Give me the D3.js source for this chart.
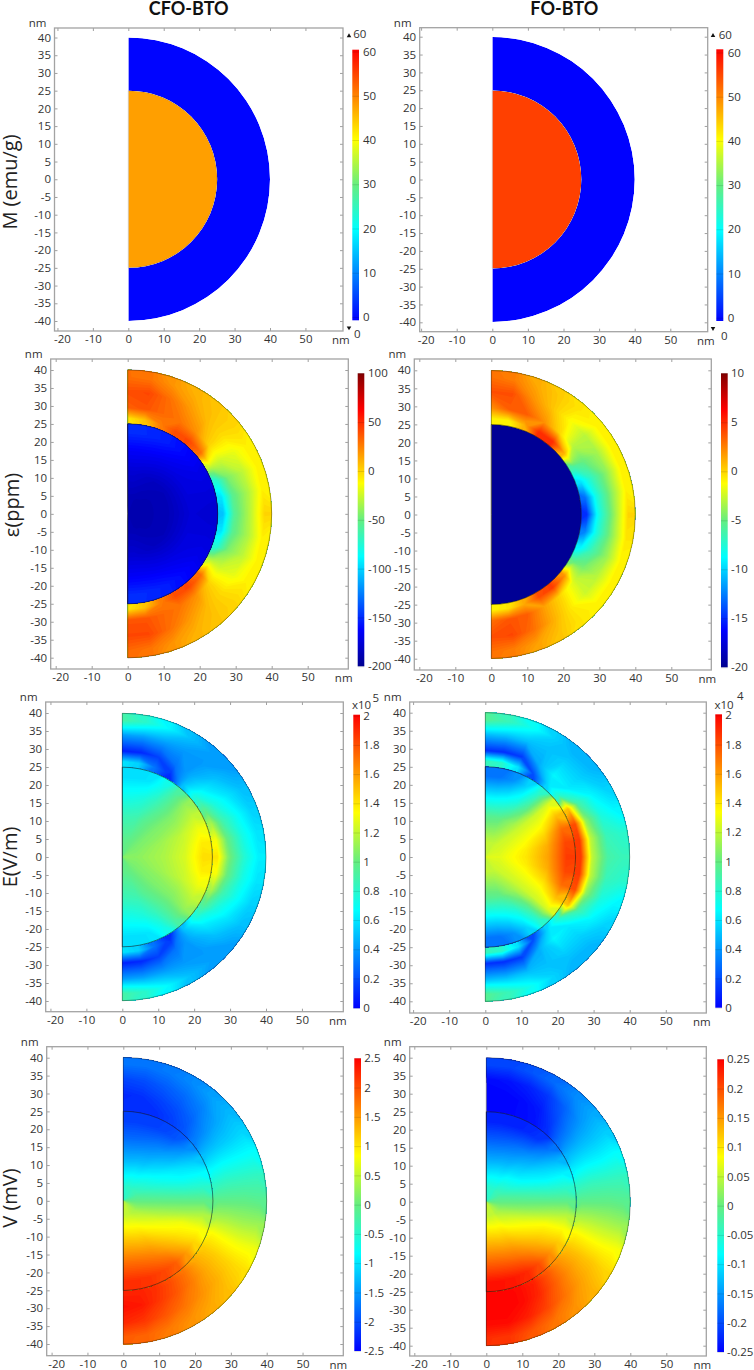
<!DOCTYPE html>
<html>
<head>
<meta charset="utf-8">
<script src="https://cdn.jsdelivr.net/npm/d3@7"></script>
<style>
  body { margin: 0; background: #fff; }
  svg { display: block; }
  text { font-family: "Open Sans", sans-serif; fill: #333; }
</style>
</head>
<body>
<svg id="fig" width="754" height="1370"></svg>
<script>
// columns of every field table: polar angle 90, 80 ... -90 deg, rows go outwards
const coreRadii = [4, 11.5, 17.5, 22.5]
const shellRadii = [26.5, 29.5, 34, 38]
const xTicks = [-20, -10, 0, 10, 20, 30, 40, 50]
const yTicks = [-40, -35, -30, -25, -20, -15, -10, -5, 0, 5, 10, 15, 20, 25, 30, 35, 40]

const mCfoCore = [[47.5]]
const mCfoShell = [[0.3]]
const mFoCore = [[55]]
const mFoShell = [[0.1]]
const mTicks = [0, 10, 20, 30, 40, 50, 60]

const epsCfoCore = [
  [-188, -188, -188, -189, -189, -190, -190, -190, -190, -190, -190, -190, -190, -190, -189, -189, -188, -188, -188],
  [-178, -178, -180, -182, -184, -185, -186, -186, -186, -186, -186, -186, -186, -185, -184, -182, -180, -178, -178],
  [-165, -165, -166, -168, -170, -172, -173, -174, -175, -176, -175, -174, -173, -172, -170, -168, -166, -165, -165],
  [-150, -150, -152, -155, -160, -165, -170, -173, -176, -178, -176, -173, -170, -165, -160, -155, -152, -150, -150]
]
const epsCfoShell = [
  [-5, 5, 25, 40, 42, 30, -25, -75, -95, -105, -95, -75, -25, 30, 42, 40, 25, 5, -5],
  [35, 38, 32, 28, 20, 0, -25, -45, -55, -58, -55, -45, -25, 0, 20, 28, 32, 38, 38],
  [40, 42, 30, 18, 8, -2, -18, -28, -32, -30, -32, -28, -18, -2, 8, 18, 30, 42, 42],
  [30, 28, 18, 10, 5, 0, -8, -10, -8, 0, -8, -10, -8, 0, 5, 10, 18, 28, 32]
]
const epsCfoTicks = [-200, -150, -100, -50, 0, 50, 100]

const epsFoCore = [[-19.8]]
const epsFoShell = [
  [-1, -1, 1, 5, 5, 1, -6, -9.5, -13, -15, -12.5, -9, -5, 2, 4.5, 4, 1.2, -0.5, -1],
  [2, 3.5, 3.5, 2, 0, -3, -5, -7, -8, -8.5, -8, -6.5, -4.5, -2, 0, 1.5, 3.5, 3.8, 3],
  [4, 4, 2, 0.5, -1.2, -3, -3.5, -4, -4, -4, -4, -3.8, -3, -2.5, -0.5, 1.2, 3, 4.2, 4],
  [3, 2.5, 1.2, 0.3, -0.5, -1, -1, -1, -0.8, 0, -0.5, -1, -1, -1, -0.5, 0.5, 1.5, 2.5, 3]
]
const epsFoTicks = [-20, -15, -10, -5, 0, 5, 10]

const eCfoCore = [
  [0.98, 0.98, 0.99, 1, 1.02, 1.04, 1.05, 1.06, 1.07, 1.08, 1.07, 1.06, 1.05, 1.04, 1.02, 1, 0.99, 0.98, 0.98],
  [0.85, 0.86, 0.88, 0.95, 1, 1.05, 1.08, 1.12, 1.14, 1.15, 1.14, 1.12, 1.08, 1.05, 1, 0.95, 0.88, 0.86, 0.85],
  [0.7, 0.71, 0.75, 0.84, 0.95, 1.05, 1.12, 1.2, 1.23, 1.25, 1.23, 1.2, 1.12, 1.05, 0.95, 0.84, 0.75, 0.71, 0.7],
  [0.58, 0.58, 0.6, 0.72, 0.92, 1.1, 1.2, 1.3, 1.38, 1.42, 1.38, 1.3, 1.2, 1.1, 0.92, 0.72, 0.6, 0.58, 0.58]
]
const eCfoShell = [
  [0.6, 0.55, 0.3, 0.12, 0.5, 0.75, 0.95, 1.15, 1.32, 1.4, 1.32, 1.15, 0.95, 0.75, 0.5, 0.12, 0.3, 0.55, 0.6],
  [0.08, 0.1, 0.17, 0.3, 0.45, 0.62, 0.75, 0.88, 1, 1.05, 1, 0.88, 0.75, 0.62, 0.45, 0.3, 0.17, 0.1, 0.08],
  [0.42, 0.42, 0.42, 0.4, 0.4, 0.5, 0.6, 0.68, 0.73, 0.78, 0.73, 0.68, 0.6, 0.5, 0.4, 0.4, 0.42, 0.42, 0.42],
  [0.9, 0.8, 0.65, 0.5, 0.42, 0.42, 0.5, 0.55, 0.6, 0.63, 0.6, 0.55, 0.5, 0.42, 0.42, 0.5, 0.65, 0.8, 0.9]
]
const eFoCore = [
  [1.2, 1.2, 1.2, 1.2, 1.22, 1.23, 1.24, 1.25, 1.26, 1.27, 1.26, 1.25, 1.24, 1.23, 1.22, 1.2, 1.2, 1.2, 1.2],
  [0.95, 0.95, 0.97, 1.05, 1.13, 1.22, 1.28, 1.33, 1.38, 1.4, 1.38, 1.33, 1.28, 1.22, 1.13, 1.05, 0.97, 0.95, 0.95],
  [0.6, 0.6, 0.65, 0.75, 0.95, 1.22, 1.32, 1.45, 1.55, 1.58, 1.55, 1.45, 1.32, 1.22, 0.95, 0.75, 0.65, 0.6, 0.6],
  [0.3, 0.3, 0.38, 0.55, 0.8, 1.25, 1.5, 1.72, 1.82, 1.85, 1.82, 1.72, 1.5, 1.25, 0.8, 0.55, 0.38, 0.3, 0.3]
]
const eFoShell = [
  [0.85, 0.8, 0.6, 0.2, 0.55, 0.8, 1.5, 1.8, 1.85, 1.85, 1.85, 1.8, 1.5, 0.8, 0.55, 0.2, 0.6, 0.8, 0.85],
  [0.12, 0.12, 0.15, 0.45, 0.65, 0.62, 0.9, 1.1, 1.2, 1.2, 1.2, 1.1, 0.9, 0.62, 0.65, 0.45, 0.15, 0.12, 0.12],
  [0.5, 0.5, 0.5, 0.5, 0.55, 0.55, 0.65, 0.75, 0.85, 0.9, 0.85, 0.75, 0.65, 0.55, 0.55, 0.5, 0.5, 0.5, 0.5],
  [0.95, 0.85, 0.7, 0.55, 0.47, 0.48, 0.55, 0.65, 0.8, 0.85, 0.8, 0.65, 0.55, 0.48, 0.47, 0.55, 0.7, 0.85, 0.95]
]
const eTicks = [0, 0.2, 0.4, 0.6, 0.8, 1, 1.2, 1.4, 1.6, 1.8, 2]

const vCfoCore = [
  [-0.55, -0.5, -0.45, -0.45, -0.4, -0.35, -0.3, -0.2, -0.12, -0.05, 0.05, 0.15, 0.25, 0.35, 0.4, 0.45, 0.5, 0.5, 0.55],
  [-1.3, -1.3, -1.25, -1.2, -1.05, -0.9, -0.75, -0.55, -0.3, -0.05, 0.2, 0.45, 0.7, 0.85, 1, 1.15, 1.2, 1.25, 1.25],
  [-1.8, -1.8, -1.75, -1.65, -1.5, -1.3, -1, -0.8, -0.45, -0.05, 0.3, 0.75, 0.95, 1.2, 1.45, 1.65, 1.75, 1.8, 1.8],
  [-2.1, -2.1, -2.1, -2.05, -1.95, -1.6, -1.2, -0.85, -0.5, -0.05, 0.4, 0.8, 1.1, 1.5, 1.9, 2.05, 2.15, 2.2, 2.2]
]
const vCfoShell = [
  [-2.2, -2.2, -2.2, -2.1, -1.95, -1.65, -1.25, -0.85, -0.45, -0.05, 0.35, 0.85, 1.15, 1.4, 1.75, 2, 2.2, 2.3, 2.3],
  [-2.25, -2.2, -2.1, -2, -1.85, -1.55, -1.2, -0.8, -0.4, -0.05, 0.35, 0.8, 1.15, 1.4, 1.7, 1.95, 2.15, 2.35, 2.4],
  [-2.05, -2, -1.9, -1.8, -1.65, -1.4, -1.15, -0.8, -0.4, -0.05, 0.3, 0.75, 1.1, 1.35, 1.55, 1.75, 1.95, 2.15, 2.25],
  [-1.75, -1.75, -1.7, -1.6, -1.45, -1.3, -1.1, -0.8, -0.4, -0.1, 0.3, 0.75, 1.05, 1.25, 1.4, 1.55, 1.7, 1.85, 1.9]
]
const vCfoTicks = [-2.5, -2, -1.5, -1, -0.5, 0, 0.5, 1, 1.5, 2, 2.5]

const vFoCore = [
  [-0.055, -0.05, -0.05, -0.05, -0.04, -0.035, -0.03, -0.02, -0.012, -0.005, 0.005, 0.015, 0.025, 0.035, 0.04, 0.05, 0.05, 0.05, 0.055],
  [-0.135, -0.135, -0.13, -0.125, -0.11, -0.1, -0.085, -0.06, -0.03, -0.005, 0.02, 0.05, 0.075, 0.09, 0.105, 0.12, 0.125, 0.13, 0.13],
  [-0.19, -0.19, -0.185, -0.175, -0.16, -0.14, -0.11, -0.085, -0.045, -0.005, 0.035, 0.08, 0.105, 0.13, 0.155, 0.175, 0.185, 0.19, 0.19],
  [-0.23, -0.23, -0.23, -0.225, -0.215, -0.175, -0.13, -0.09, -0.05, -0.005, 0.045, 0.085, 0.12, 0.16, 0.2, 0.225, 0.235, 0.24, 0.24]
]
const vFoShell = [
  [-0.25, -0.25, -0.245, -0.24, -0.22, -0.175, -0.13, -0.09, -0.045, -0.005, 0.04, 0.09, 0.125, 0.155, 0.195, 0.23, 0.245, 0.25, 0.25],
  [-0.25, -0.25, -0.245, -0.235, -0.205, -0.165, -0.125, -0.085, -0.04, -0.005, 0.04, 0.085, 0.125, 0.155, 0.19, 0.225, 0.245, 0.25, 0.25],
  [-0.245, -0.24, -0.23, -0.215, -0.185, -0.15, -0.12, -0.085, -0.04, -0.005, 0.035, 0.08, 0.12, 0.145, 0.175, 0.205, 0.23, 0.245, 0.245],
  [-0.205, -0.205, -0.195, -0.18, -0.16, -0.14, -0.115, -0.08, -0.04, -0.01, 0.03, 0.08, 0.11, 0.135, 0.155, 0.175, 0.195, 0.215, 0.22]
]
const vFoTicks = [-0.25, -0.2, -0.15, -0.1, -0.05, 0, 0.05, 0.1, 0.15, 0.2, 0.25]

const columnTitles = ['CFO-BTO', 'FO-BTO']
const rowTitles = ['M (emu/g)', 'ε(ppm)', 'E(V/m)', 'V (mV)']

// colour maps, stop position on the bar -> colour
const rainbowStops = [[0, '#0000ff'], [1 / 3, '#00ffff'], [1 / 2, '#66ee80'], [2 / 3, '#ffff00'], [1, '#ff0000']]
const jetStops = [[0, '#00008f'], [0.125, '#0000ff'], [0.375, '#00ffff'], [0.5, '#66ee80'], [0.625, '#ffff00'], [0.875, '#ff0000'], [1, '#800000']]

// pixel layout of each panel
const panels = [
  { id: 'p1', frame: [54.5, 28, 343, 331], x0: 128.3, x40: 270, yT: 37.5, yB: 321, bar: [352.3, 49.7, 359, 320.3], lab: [51.5, 317], labX: 363, core: mCfoCore, shell: mCfoShell, ticks: mTicks, stops: rainbowStops, over: [349, 36, 353.3, 34, 349, 327.7, 354, 334] },
  { id: 'p2', frame: [419.7, 27.7, 707.7, 331.7], x0: 492.3, x40: 634.7, yT: 36.7, yB: 322.3, bar: [716.3, 49.3, 723.3, 321], lab: [52.5, 317.7], labX: 727.7, core: mFoCore, shell: mFoShell, ticks: mTicks, stops: rainbowStops, over: [713, 35.7, 718.7, 34.5, 713, 328.3, 721, 335.7] },
  { id: 'p3', frame: [50.7, 359, 348.3, 669], x0: 127.7, x40: 271.7, yT: 370, yB: 657.7, bar: [357.7, 373.3, 364.3, 666.3], lab: [373.3, 666.3], labX: 368, core: epsCfoCore, shell: epsCfoShell, ticks: epsCfoTicks, stops: jetStops, outline: true },
  { id: 'p4', frame: [414.3, 359, 711.3, 670], x0: 491.3, x40: 635.3, yT: 370.3, yB: 658.7, bar: [721, 373.3, 727.7, 667.3], lab: [373.3, 667.3], labX: 731, core: epsFoCore, shell: epsFoShell, ticks: epsFoTicks, stops: jetStops, outline: true },
  { id: 'p5', frame: [45.7, 702, 343.3, 1011.7], x0: 122.3, x40: 266, yT: 713, yB: 1001, bar: [353.3, 714.7, 360, 1008.3], lab: [715.7, 1007.7], labX: 363.3, core: eCfoCore, shell: eCfoShell, ticks: eTicks, stops: rainbowStops, outline: true, exp: ['5', 352, 708.5, 372.5, 702] },
  { id: 'p6', frame: [409.7, 702, 706.3, 1013], x0: 485.3, x40: 629.7, yT: 712.7, yB: 1001.3, bar: [715.3, 714.3, 722, 1007.7], lab: [715.3, 1007.7], labX: 725.3, core: eFoCore, shell: eFoShell, ticks: eTicks, stops: rainbowStops, outline: true, exp: ['4', 714.5, 708.5, 737, 700] },
  { id: 'p7', frame: [46.7, 1046.7, 343.3, 1355.7], x0: 123.3, x40: 266.7, yT: 1057.7, yB: 1344, bar: [354.3, 1058.3, 361, 1351], lab: [1058.3, 1351], labX: 364.3, core: vCfoCore, shell: vCfoShell, ticks: vCfoTicks, stops: rainbowStops, outline: true },
  { id: 'p8', frame: [409.7, 1046.7, 706.3, 1356], x0: 486.3, x40: 630.3, yT: 1057.7, yB: 1345.7, bar: [717.3, 1059.3, 724, 1352], lab: [1059.3, 1352], labX: 727, core: vFoCore, shell: vFoShell, ticks: vFoTicks, stops: rainbowStops, outline: true }
]

const svg = d3.select('#fig')
const defs = svg.append('defs')

// filled contours of a polar table: the grid is contoured in (column, row) space
// and every ring vertex is carried over to the half disk by the two scales
function drawField(parent, rows, radii, rIn, rOut, r, color, lo, hi, clipId) {
  const g = parent.append('g').attr('clip-path', `url(#${clipId})`)

  if (rows.length === 1) {
    g.append('path')
      .attr('d', d3.arc()({ innerRadius: r(rIn), outerRadius: r(rOut), startAngle: 0, endAngle: Math.PI }))
      .attr('fill', color(rows[0][0]))
    return
  }

  const nx = rows[0].length
  const ny = rows.length
  const angle = d3.scaleLinear().domain([0.5, nx - 0.5]).range([0, Math.PI])
  const radius = d3.scaleLinear()
    .domain([0, ...radii.map((d, i) => i + 0.5), ny])
    .range([rIn, ...radii, rOut])

  const path = d3.geoPath(d3.geoTransform({
    point(cx, cy) {
      const a = angle(cx)
      const rr = r(radius(cy))
      this.stream.point(rr * Math.sin(a), -rr * Math.cos(a))
    }
  }))

  const levels = d3.range(128).map(i => lo + i * (hi - lo) / 128)
  const contours = d3.contours().size([nx, ny]).thresholds(levels)(rows.flat())

  g.selectAll('path')
    .data(contours.filter(c => c.coordinates.length))
    .join('path')
    .attr('d', path)
    .attr('fill', d => color(d.value + (hi - lo) / 256))
}

function drawAxis(g, axis, tx, ty) {
  const a = g.append('g').attr('transform', `translate(${tx},${ty})`).call(axis)
  a.select('.domain').remove()
  a.selectAll('line').attr('stroke', '#888').attr('stroke-width', 0.8)
  a.selectAll('text').attr('font-size', 11.5).attr('font-family', '"Open Sans", sans-serif').attr('fill', '#333')
  return a
}

function drawPanel(p) {
  const [fx0, fy0, fx1, fy1] = p.frame
  const g = svg.append('g').attr('id', p.id)

  const x = d3.scaleLinear().domain([0, 40]).range([p.x0, p.x40])
  const y = d3.scaleLinear().domain([-40, 40]).range([p.yB, p.yT])
  const r = d3.scaleLinear().domain([0, 40]).range([0, p.x40 - p.x0])

  const lo = p.ticks[0]
  const hi = p.ticks[p.ticks.length - 1]
  const color = d3.scaleLinear()
    .domain(p.stops.map(s => lo + s[0] * (hi - lo)))
    .range(p.stops.map(s => s[1]))
    .clamp(true)

  const cx = x(0)
  const cy = y(0)
  const half = (r0, r1) => d3.arc()({ innerRadius: r(r0), outerRadius: r(r1), startAngle: 0, endAngle: Math.PI })

  defs.append('clipPath').attr('id', p.id + 'core').append('path').attr('d', half(0, 25))
  defs.append('clipPath').attr('id', p.id + 'shell').append('path').attr('d', half(25, 40))

  const field = g.append('g').attr('transform', `translate(${cx},${cy})`)
  if (p.shell.length === 1) {
    drawField(field, p.shell, shellRadii, 25, 40, r, color, lo, hi, p.id + 'shell')
  } else {
    drawField(field, p.shell, shellRadii, 22, 44, r, color, lo, hi, p.id + 'shell')
  }
  drawField(field, p.core, coreRadii, 0, p.core.length === 1 ? 25 : 28, r, color, lo, hi, p.id + 'core')

  const outlines = field.append('g').attr('fill', 'none').attr('stroke', '#1a1a1a')
  outlines.append('path').attr('d', half(0, 25))
    .attr('stroke-width', p.outline ? 0.7 : 0.5).attr('stroke-opacity', p.outline ? 0.8 : 0.35)
  if (p.outline) {
    outlines.append('path').attr('d', half(0, 40)).attr('stroke-width', 0.6).attr('stroke-opacity', 0.7)
  }

  // frame and ticks, the ticks point inwards on all four sides
  const bottom = drawAxis(g, d3.axisBottom(x).tickValues(xTicks).tickSize(-3).tickPadding(4).tickFormat(d => d), 0, fy1)
  // the first label is pushed inside the frame in the original
  bottom.selectAll('text').filter(d => d === xTicks[0]).attr('dx', 4.5)
  drawAxis(g, d3.axisTop(x).tickValues(xTicks).tickSize(-3).tickFormat(''), 0, fy0)
  drawAxis(g, d3.axisLeft(y).tickValues(yTicks).tickSize(-3).tickPadding(3.5).tickFormat(d => d), fx0, 0)
  drawAxis(g, d3.axisRight(y).tickValues(yTicks).tickSize(-3).tickFormat(''), fx1, 0)

  g.append('rect')
    .attr('x', fx0).attr('y', fy0).attr('width', fx1 - fx0).attr('height', fy1 - fy0)
    .attr('fill', 'none').attr('stroke', '#a3a3a3').attr('stroke-width', 1.3)

  g.append('text').attr('x', x(60)).attr('y', fy1 + 13).attr('text-anchor', 'middle')
    .attr('font-size', 11.5).text('nm')
  g.append('text').attr('x', fx0 - 17).attr('y', fy0 - 1).attr('text-anchor', 'middle')
    .attr('font-size', 11.5).text('nm')

  // colour bar
  const [bx0, by0, bx1, by1] = p.bar
  const gradId = p.id + 'grad'
  defs.append('linearGradient').attr('id', gradId)
    .attr('x1', 0).attr('y1', 1).attr('x2', 0).attr('y2', 0)
    .selectAll('stop')
    .data(p.stops)
    .join('stop')
    .attr('offset', d => d[0])
    .attr('stop-color', d => d[1])
  g.append('rect')
    .attr('x', bx0).attr('y', by0).attr('width', bx1 - bx0).attr('height', by1 - by0)
    .attr('fill', `url(#${gradId})`)

  const barScale = d3.scaleLinear().domain([lo, hi]).range([p.lab[1], p.lab[0]])
  const barAxis = drawAxis(g, d3.axisRight(barScale).tickValues(p.ticks).tickSize(-(bx1 - bx0)).tickPadding(p.labX - bx1).tickFormat(d => d), bx1, 0)
  barAxis.selectAll('line').attr('stroke', '#000').attr('stroke-opacity', 0.2).attr('stroke-width', 0.6)

  // over and under range marks on the M panels
  if (p.over) {
    const [tx0, ty0, lx0, ly0, tx1, ty1, lx1, ly1] = p.over
    const tri = d3.symbol().type(d3.symbolTriangle).size(9)
    g.append('path').attr('d', tri()).attr('fill', '#111').attr('transform', `translate(${tx0},${ty0})`)
    g.append('path').attr('d', tri()).attr('fill', '#111').attr('transform', `translate(${tx1},${ty1}) rotate(180)`)
    g.append('text').attr('x', lx0).attr('y', ly0).attr('dy', '.35em').attr('font-size', 11.5).text(hi)
    g.append('text').attr('x', lx1).attr('y', ly1).attr('dy', '.35em').attr('font-size', 11.5).text(lo)
  }

  // multiplier above the E colour bars
  if (p.exp) {
    const [power, ax, ay, ex, ey] = p.exp
    g.append('text').attr('x', ax).attr('y', ay).attr('font-size', 11.5).text('x10')
    g.append('text').attr('x', ex).attr('y', ey).attr('font-size', 11.5).text(power)
  }
}

panels.forEach(drawPanel)

svg.selectAll('.col-title')
  .data(columnTitles)
  .join('text')
  .attr('class', 'col-title')
  .attr('x', (d, i) => [188.7, 564.3][i])
  .attr('y', 15)
  .attr('text-anchor', 'middle')
  .attr('font-size', 18)
  .attr('font-weight', 700)
  .style('font-family', 'Lato, sans-serif')
  .style('fill', '#111')
  .text(d => d)

svg.selectAll('.row-title')
  .data(rowTitles)
  .join('text')
  .attr('class', 'row-title')
  .attr('transform', (d, i) => `translate(${[17, 18.5, 17, 17][i]},${[182, 505, 857, 1198][i]}) rotate(-90)`)
  .attr('text-anchor', 'middle')
  .attr('font-size', 20)
  .style('fill', '#222')
  .text(d => d)
</script>
</body>
</html>
